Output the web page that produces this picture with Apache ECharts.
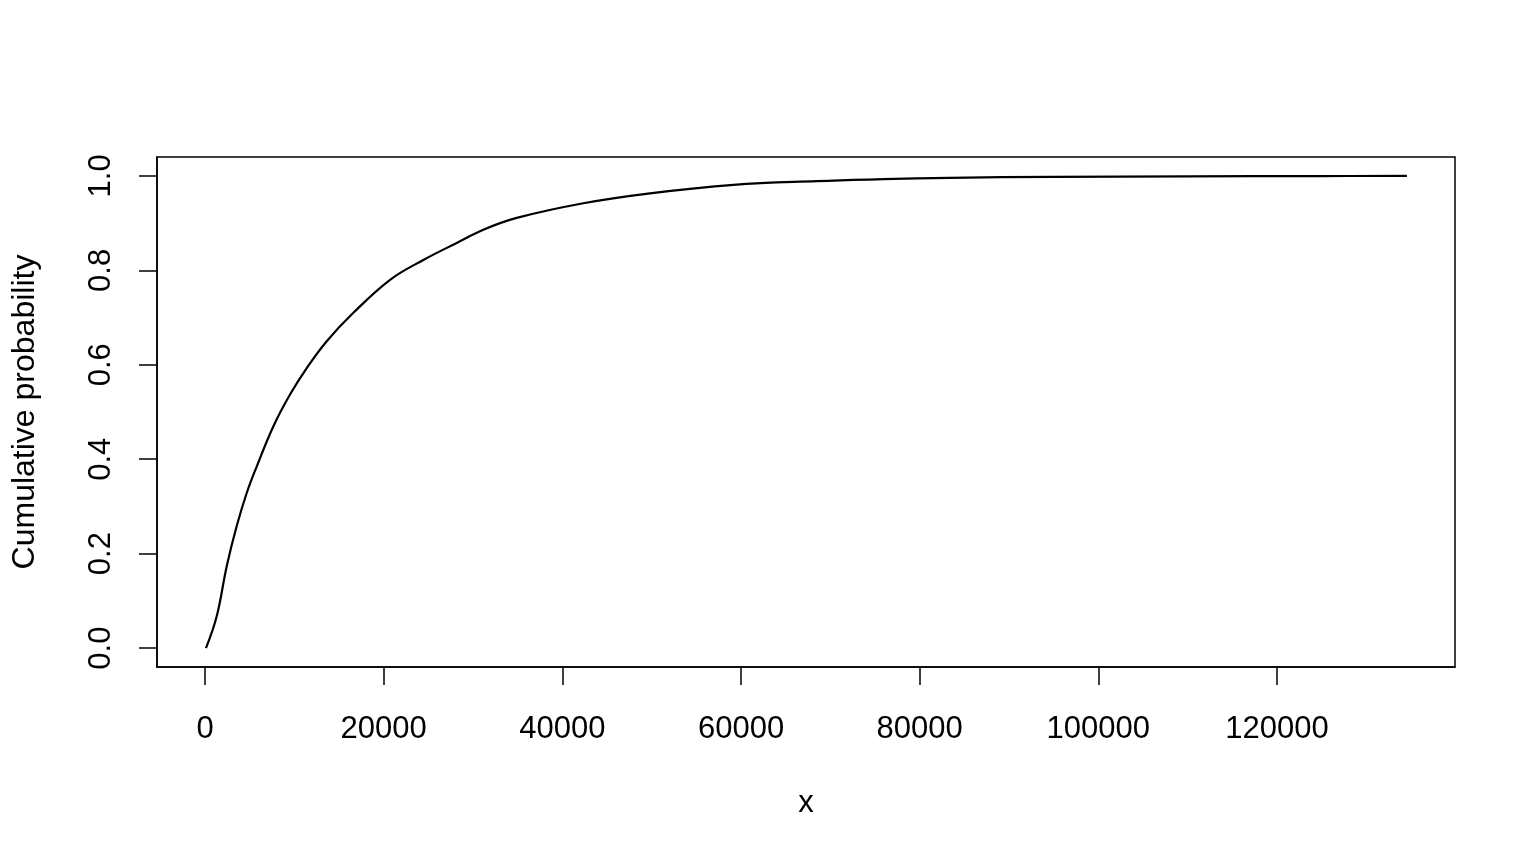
<!DOCTYPE html>
<html>
<head>
<meta charset="utf-8">
<script src="https://cdn.jsdelivr.net/npm/echarts@6/dist/echarts.min.js"></script>
<style>
html,body{margin:0;padding:0;background:#fff;}
#chart{width:1536px;height:864px;}
</style>
</head>
<body>
<div id="chart"></div>
<script>
// Data
var xValues = [100, 1310, 2430, 3550, 4670, 5790, 7650, 9510, 11380, 13620, 16600, 20710, 24440, 28170, 31150, 34890, 42350, 49810, 59140, 68470, 75930, 83390, 95000, 110000, 125000, 134550];
var yValues = [0, 0.068, 0.174, 0.259, 0.329, 0.385, 0.470, 0.537, 0.593, 0.650, 0.710, 0.780, 0.822, 0.858, 0.886, 0.911, 0.942, 0.963, 0.981, 0.989, 0.993, 0.996, 0.998, 0.999, 0.9997, 1.0];
var xTicks = [0, 20000, 40000, 60000, 80000, 100000, 120000];
var yTicks = [0, 0.2, 0.4, 0.6, 0.8, 1.0];
var xTitle = 'x';
var yTitle = 'Cumulative probability';

var points = xValues.map(function (x, i) { return [x, yValues[i]]; });

// R-style 4% padding on each side of the data range
var xMinData = 0, xMaxData = 134550;
var xPad = (xMaxData - xMinData) * 0.04;
var yPad = 0.04;

var font = '"Liberation Sans", Arial, Helvetica, sans-serif';
var chart = echarts.init(document.getElementById('chart'), null, {renderer: 'canvas'});
chart.setOption({
  animation: false,
  backgroundColor: '#ffffff',
  grid: {
    left: 157, right: 81, top: 157, bottom: 197,
    show: true, borderColor: '#000', borderWidth: 1.5, backgroundColor: 'transparent'
  },
  xAxis: {
    type: 'value',
    min: xMinData - xPad,
    max: xMaxData + xPad,
    name: xTitle,
    nameLocation: 'middle',
    nameGap: 121,
    nameTextStyle: {fontFamily: font, fontSize: 31, color: '#000'},
    axisLine: {show: true, onZero: false, lineStyle: {color: '#000', width: 1.5}},
    axisTick: {show: true, inside: false, length: 18, customValues: xTicks, lineStyle: {color: '#000', width: 1.5}},
    axisLabel: {show: true, margin: 47, customValues: xTicks, fontFamily: font, fontSize: 31, color: '#000',
      formatter: function (v) { return String(v); }},
    splitLine: {show: false}
  },
  yAxis: {
    type: 'value',
    min: 0 - yPad,
    max: 1 + yPad,
    name: yTitle,
    nameLocation: 'middle',
    nameRotate: 90,
    nameGap: 116,
    nameTextStyle: {fontFamily: font, fontSize: 32, color: '#000'},
    axisLine: {show: true, onZero: false, lineStyle: {color: '#000', width: 1.5}},
    axisTick: {show: true, inside: false, length: 18, customValues: yTicks, lineStyle: {color: '#000', width: 1.5}},
    axisLabel: {show: true, margin: 40, rotate: 90, customValues: yTicks, fontFamily: font, fontSize: 31, color: '#000',
      formatter: function (v) { return v.toFixed(1); }},
    splitLine: {show: false}
  },
  series: [{
    type: 'line',
    data: points,
    showSymbol: false,
    smooth: 0.4,
    lineStyle: {color: '#000', width: 2.2},
    clip: false
  }]
});
</script>
</body>
</html>
